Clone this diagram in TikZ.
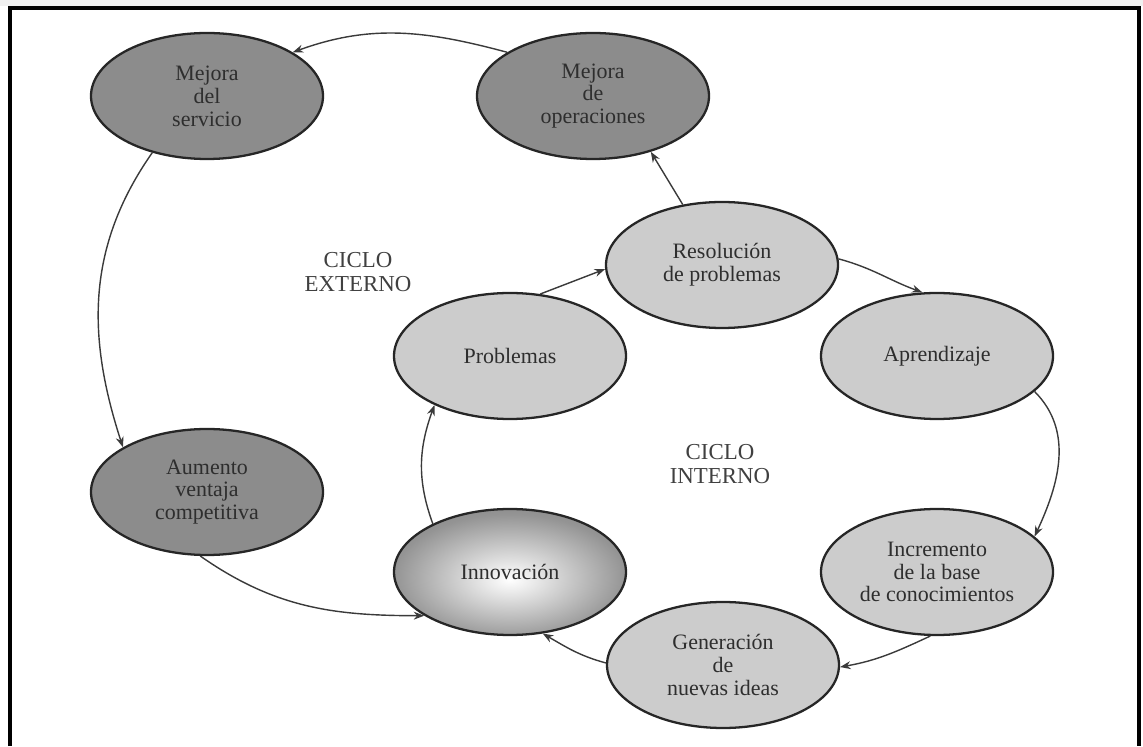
\documentclass[tikz,border=0pt]{standalone}
\usepackage{fontspec}
\setmainfont{Liberation Serif}
\usepackage{xcolor}
\usepackage{tikz}
\usetikzlibrary{
  arrows.meta,
  positioning,
  shapes.geometric
}
\definecolor{outerfill}{HTML}{8C8C8C}
\definecolor{innerfill}{HTML}{CCCCCC}
\definecolor{inktext}{HTML}{2E2E2E}
\definecolor{linegrey}{HTML}{3A3A3A}
\definecolor{stripgrey}{HTML}{F0F0F0}
\pgfdeclareradialshading{innoshade}{\pgfpoint{0bp}{-3bp}}{%
  color(0bp)=(white); color(5bp)=(white!92!black);
  color(25bp)=(black!42); color(50bp)=(black!62); color(80bp)=(black!62)}
\tikzset{
  cyclebox/.style={
    ellipse, draw=black!85, line width=1.3pt,
    minimum width=4.64cm, minimum height=2.52cm,
    inner sep=0pt, inner xsep=-6pt, align=center,
    font=\fontsize{12.5}{13}\selectfont, text=inktext
  },
  outerbox/.style={cyclebox, fill=outerfill},
  innerbox/.style={cyclebox, fill=innerfill},
  innobox/.style={cyclebox, shading=innoshade},
  cyclelabel/.style={
    align=center, font=\fontsize{13}{13.5}\selectfont, text=black!75
  },
  flowarrow/.style={
    -{Stealth[length=6pt,width=4.5pt]}, line width=0.8pt, color=linegrey
  },
}

\begin{document}
\begin{tikzpicture}

  \useasboundingbox (0,0) rectangle (22.86,14.92);

  %% page edge and frame
  \fill[stripgrey] (0,14.80) rectangle (22.86,14.92);
  \draw[line width=1.9pt] (0.2,0) -- (0.2,14.76) -- (22.78,14.76) -- (22.78,0);

  %% Outer cycle
  \node[outerbox] (serv) at (4.14,13.00) {Mejora\\del\\servicio};
  \node[outerbox] (ope)  at (11.86,13.00) {Mejora\\de\\operaciones};
  \node[outerbox] (aum)  at (4.14,5.08) {Aumento\\ventaja\\competitiva};

  %% Inner cycle
  \node[innerbox] (res)  at (14.44,9.62) {Resolución\\de problemas};
  \node[innerbox] (prob) at (10.20,7.80) {Problemas};
  \node[innerbox] (apr)  at (18.74,7.80) {Aprendizaje};
  \node[innerbox] (inc)  at (18.74,3.48) {Incremento\\de la base\\de conocimientos};
  \node[innerbox] (gen)  at (14.46,1.62) {Generación\\de\\nuevas ideas};
  \node[innobox]  (inn)  at (10.20,3.48) {Innovación};

  %% Cycle names
  \node[cyclelabel] (extlab) at (7.16,9.48) {CICLO\\EXTERNO};
  \node[cyclelabel] (intlab) at (14.40,5.64) {CICLO\\INTERNO};

  \draw[flowarrow] (ope.153) to[out=165,in=20] (serv.27);
  \draw[flowarrow] (serv.226) to[out=235,in=108] (aum.152);
  \draw[flowarrow] (aum.264) to[out=-35,in=180] (inn.207);
  \draw[flowarrow] (inn.148) to[out=110,in=250] (prob.213);
  \draw[flowarrow] (prob.64) -- (res.182);
  \draw[flowarrow] (res.123) -- (ope.316);
  \draw[flowarrow] (res.3) to[out=-15,in=160] (apr.103);
  \draw[flowarrow] (apr.340) to[out=-45,in=65] (inc.20);
  \draw[flowarrow] (inc.264) to[out=205,in=10] (gen.359);
  \draw[flowarrow] (gen.179) to[out=165,in=-30] (inn.298);

\end{tikzpicture}
\end{document}
